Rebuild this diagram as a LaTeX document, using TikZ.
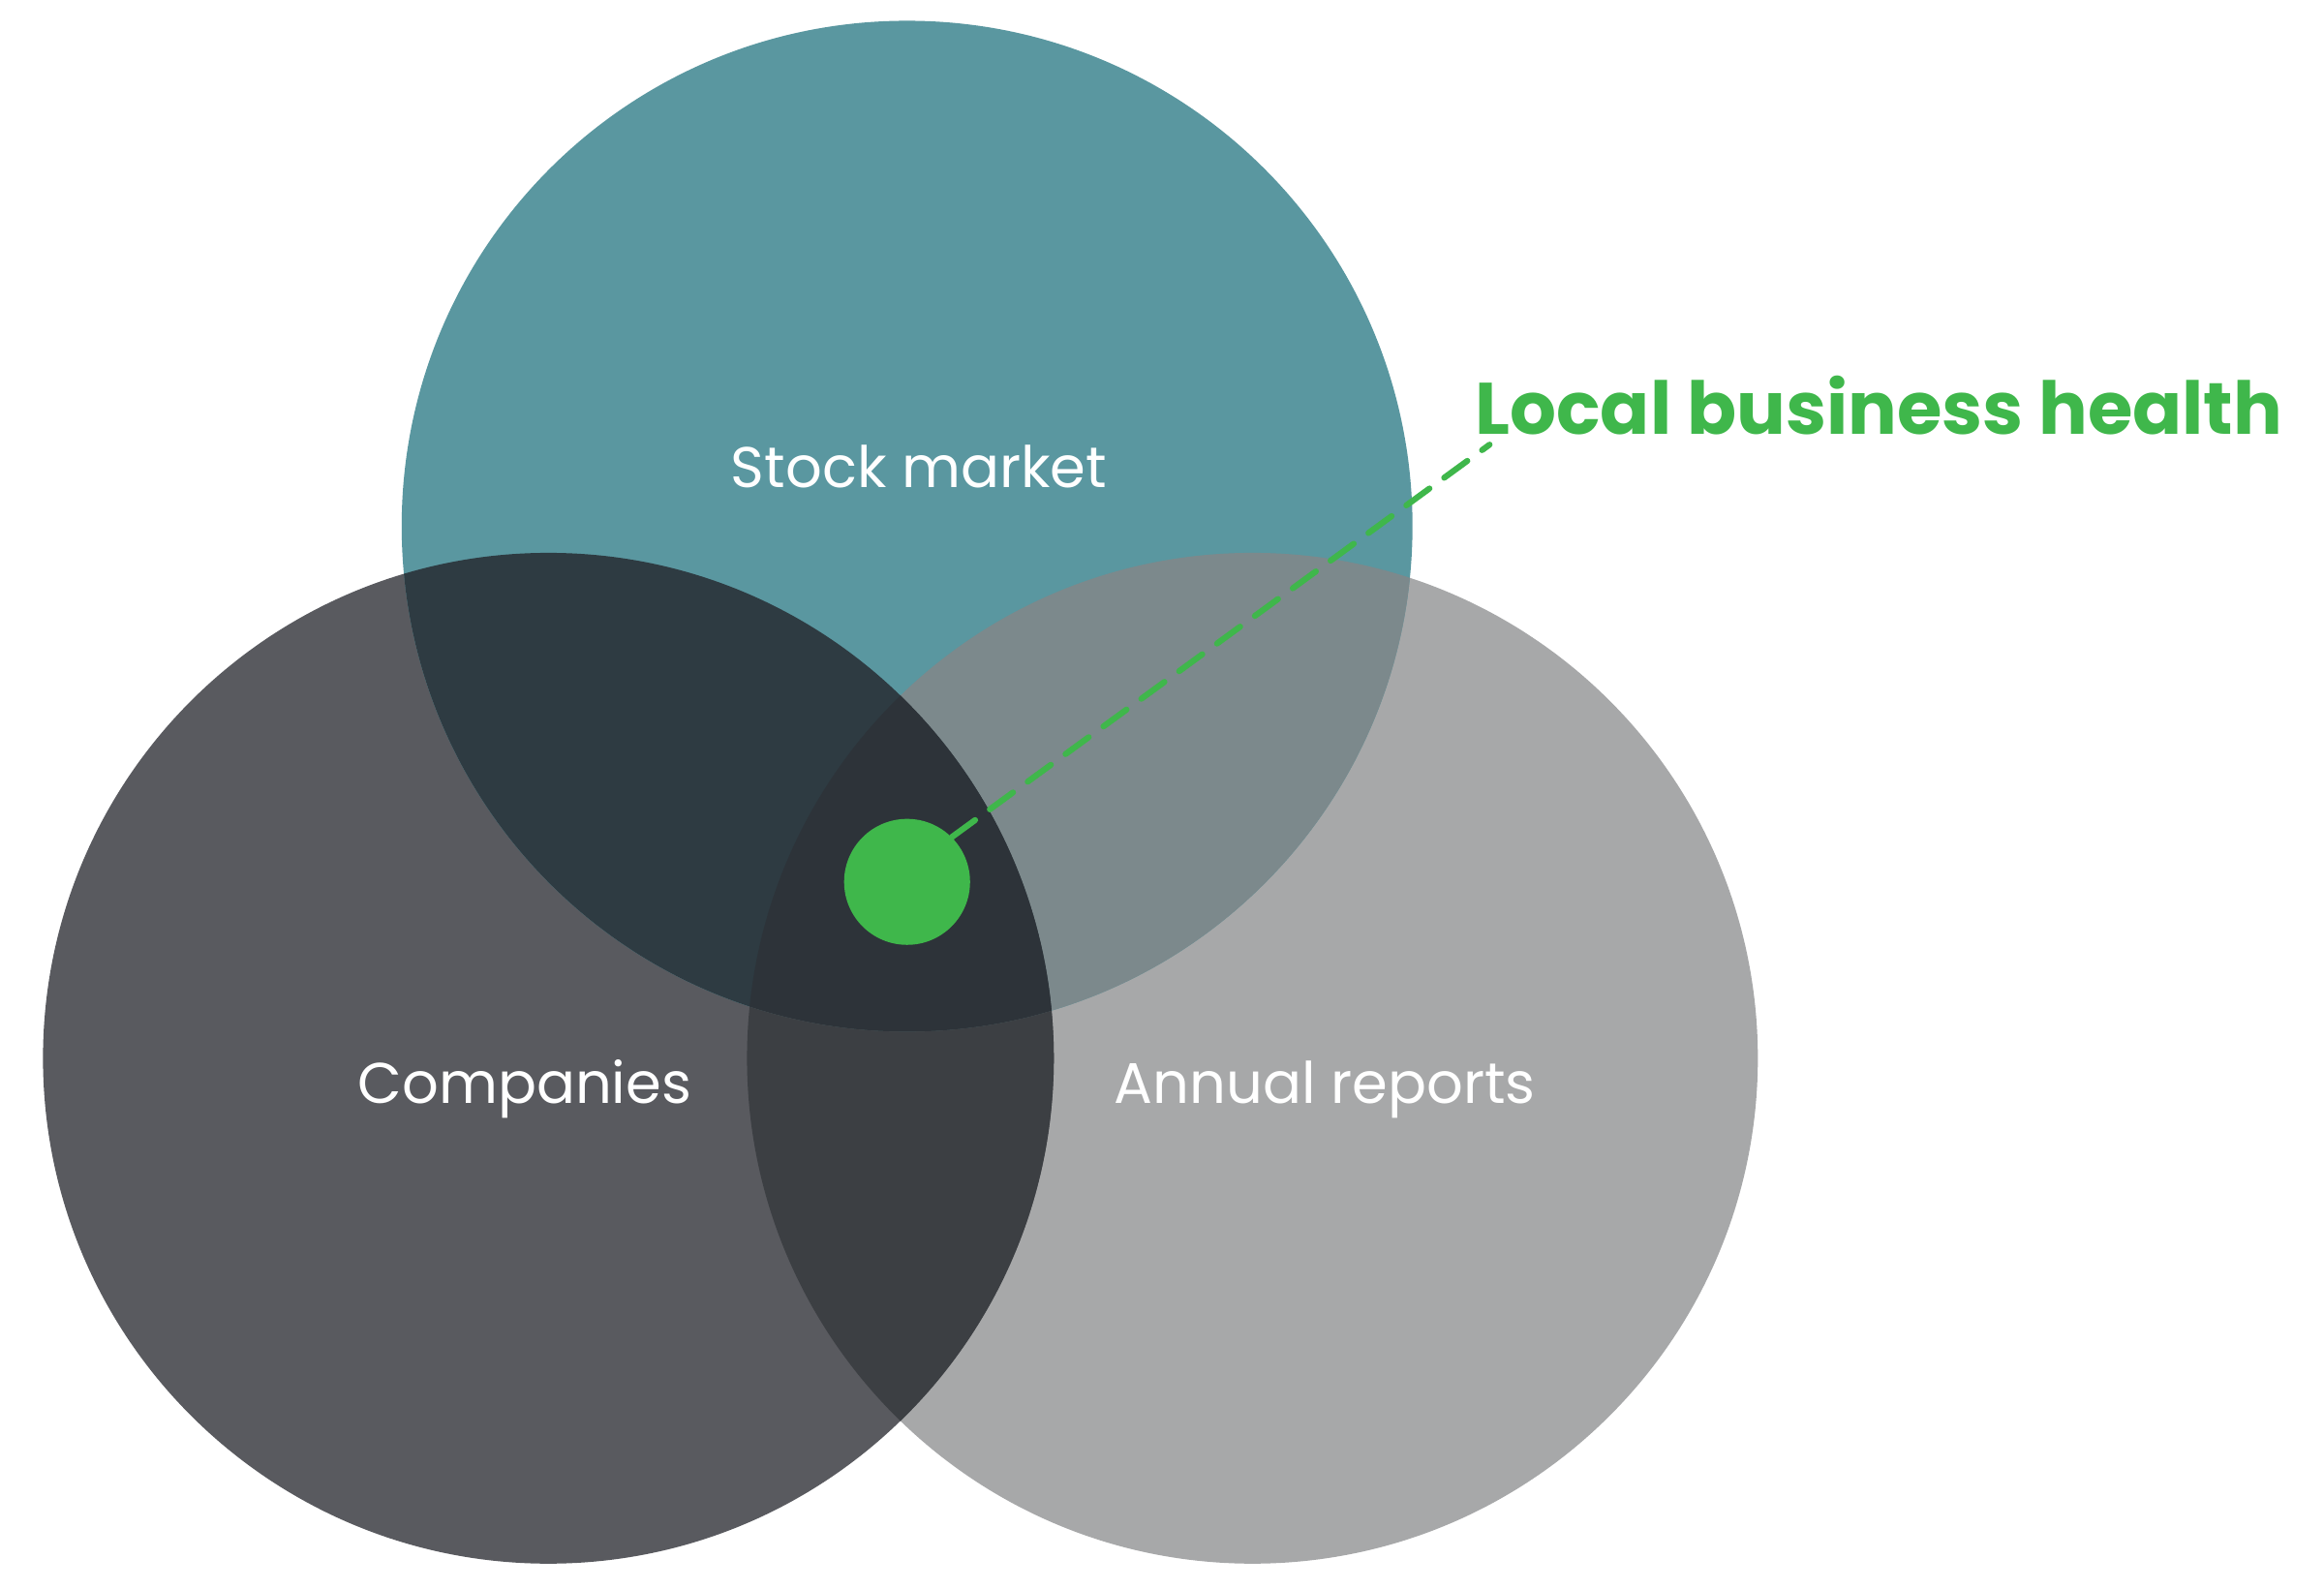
\documentclass[tikz,border=0pt]{standalone}
\usepackage{fontspec}
\setmainfont{Poppins}
\usepackage{xcolor}
\usetikzlibrary{calc}
\definecolor{stockcol}{HTML}{5A97A0}
\definecolor{compcol}{HTML}{595A5F}
\definecolor{reportcol}{HTML}{A7A8A9}
\definecolor{stockcomp}{HTML}{2E3B42}
\definecolor{stockreport}{HTML}{7C898C}
\definecolor{compreport}{HTML}{3C3F43}
\definecolor{corecol}{HTML}{2D3339}
\definecolor{healthgreen}{HTML}{3FB74B}
\begin{document}
\begin{tikzpicture}[x=0.02cm, y=-0.02cm, setlabel/.style={text=white, font=\fontsize{22}{26}\selectfont}, line/.style={color=healthgreen, line width=2.3pt, dash pattern=on 11pt off 7pt, line cap=round}]
	\useasboundingbox (0,0) rectangle (1568,1072);
	\coordinate (T) at (612, 355);
	\coordinate (L) at (370, 714);
	\coordinate (R) at (845, 714);
	\def\rad{341}
	\fill[reportcol] (R) circle (\rad);
	\fill[compcol] (L) circle (\rad);
	\fill[stockcol] (T) circle (\rad);
	\begin{scope}
		\clip (L) circle (\rad);
		\fill[compreport] (R) circle (\rad);
	\end{scope}
	\begin{scope}
		\clip (T) circle (\rad);
		\fill[stockreport] (R) circle (\rad);
		\fill[stockcomp] (L) circle (\rad);
		\clip (L) circle (\rad);
		\fill[corecol] (R) circle (\rad);
	\end{scope}
	\node[setlabel] (SLabel) at (620, 315) {Stock market};
	\node[setlabel] (CLabel) at (354, 735) {Companies};
	\node[setlabel] (ALabel) at (894, 735) {Annual reports};
	\node[circle, fill=healthgreen, minimum size=1.7cm, inner sep=0pt] (dot) at (612, 595) {};
	\node[anchor=base west, text=healthgreen, font=\bfseries\fontsize{28}{34}\selectfont, inner sep=0pt] (title) at (995, 293) {Local business health};
	\coordinate (tip) at (1005, 300);
	\draw[line] (dot.45) -- (tip);
\end{tikzpicture}
\end{document}
